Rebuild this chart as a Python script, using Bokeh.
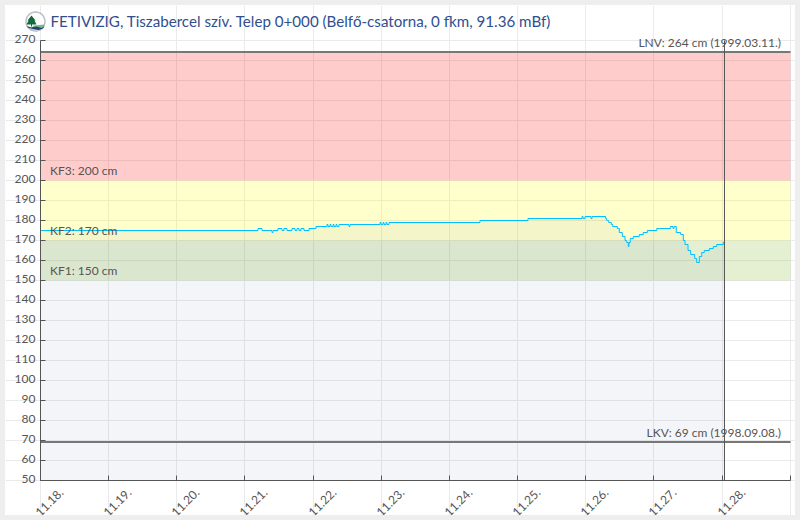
from bokeh.plotting import figure
from bokeh.embed import file_html
from bokeh.resources import INLINE
from bokeh.models import BoxAnnotation, Label, FixedTicker, Range1d, PolyAnnotation
from math import pi
import numpy as np

title = "FETIVIZIG, Tiszabercel szív. Telep 0+000 (Belfő-csatorna, 0 fkm, 91.36 mBf)"
tick_days = list(range(0, 12))
tick_labels = ["11.18.", "11.19.", "11.20.", "11.21.", "11.22.", "11.23.", "11.24.", "11.25.", "11.26.", "11.27.", "11.28."]
y_ticks = list(range(50, 280, 10))
now_day = 10.035
lnv = 264
lkv = 69
kf1, kf2, kf3 = 150, 170, 200

days = [0, 3.191, 3.250, 3.396, 3.411, 3.484, 3.543, 3.572, 3.616, 3.690, 3.734, 3.763, 3.793, 3.822, 3.866,
        3.939, 4.042, 4.071, 4.203, 4.218, 4.248, 4.262, 4.292, 4.306, 4.336, 4.350, 4.379, 4.526, 4.541,
        4.981, 4.996, 5.025, 5.040, 5.069, 5.084, 5.113, 6.448, 7.152, 7.945, 7.960, 7.989, 8.077, 8.092,
        8.292, 8.307, 8.337, 8.375, 8.395, 8.429, 8.463, 8.492, 8.536, 8.576, 8.600, 8.624, 8.634, 8.653,
        8.697, 8.785, 8.844, 8.903, 9.041, 9.079, 9.240, 9.280, 9.295, 9.328, 9.392, 9.431, 9.456, 9.500,
        9.539, 9.598, 9.627, 9.665, 9.701, 9.739, 9.813, 9.871, 9.921, 9.969, 10.018, 10.035]
levels = [175, 176, 175, 174, 175, 176, 175, 176, 175, 176, 175, 176, 175, 176, 175,
          176, 177, 177, 178, 177, 178, 177, 178, 177, 178, 177, 178, 177, 178,
          179, 178, 179, 178, 179, 178, 179, 180, 181, 182, 181, 182, 181, 182,
          181, 180, 179, 178, 177, 177, 176, 174, 172, 170, 169, 167, 169, 171,
          172, 173, 174, 175, 176, 176, 177, 176, 177, 174, 173, 170, 168, 165,
          163, 161, 159, 162, 164, 165, 166, 167, 168, 168, 169, 169]

TXT = "#555555"
FONT = "Lato"
PX_PER_DAY = 68.16
# tick positions snapped to whole pixels, as in the reference
x_ticks = [round(d * PX_PER_DAY) / PX_PER_DAY for d in tick_days]
end_day = 750 / PX_PER_DAY
LINE_SNAP = 0.25  # half a pixel, keeps the two-pixel limit lines crisp

# the frame fills the whole card, so that no text is clipped at the plot's edge
p = figure(width=790, height=510, output_backend="svg", toolbar_location=None,
           x_range=Range1d(-35 / PX_PER_DAY, 755 / PX_PER_DAY), y_range=Range1d(32.5, 287.5),
           min_border_left=0, min_border_right=0, min_border_top=0, min_border_bottom=0)
p.styles = {"position": "absolute", "left": "5px", "top": "5px", "box-shadow": "0 0 0 5px #eeeeee"}
p.background_fill_color = "#ffffff"
p.border_fill_color = "#ffffff"
p.outline_line_color = None

for ax in (p.xaxis[0], p.yaxis[0]):
    ax.axis_line_color = TXT
    ax.major_tick_line_color = TXT
    ax.major_tick_in = 5
    ax.major_tick_out = 0
    ax.minor_tick_line_color = None
p.xaxis[0].ticker = FixedTicker(ticks=x_ticks)
p.yaxis[0].ticker = FixedTicker(ticks=y_ticks)
p.xaxis[0].major_label_overrides = {t: "" for t in x_ticks}
p.yaxis[0].major_label_overrides = {t: "" for t in y_ticks}
p.xaxis[0].fixed_location = 50
p.yaxis[0].fixed_location = 0
p.xaxis[0].bounds = (0, end_day)
p.yaxis[0].bounds = (50, 270)
p.xgrid[0].ticker = FixedTicker(ticks=x_ticks)
p.ygrid[0].ticker = FixedTicker(ticks=y_ticks)
p.xgrid[0].bounds = (50, 270)
p.ygrid[0].bounds = (0, end_day)
p.grid.grid_line_color = "#eaeaea"
p.grid.grid_line_width = 1

for lo, hi, col in ((kf3, lnv, "#ff0000"), (kf2, kf3, "#ffff00"), (kf1, kf2, "#7db423")):
    p.add_layout(BoxAnnotation(left=0, right=end_day, bottom=lo, top=hi, fill_color=col, fill_alpha=0.2,
                               line_color=None, level="underlay"))

p.varea_step(x=days, y1=[50] * len(days), y2=levels, step_mode="after", fill_color="#263785", fill_alpha=0.05)
p.step(x=days, y=levels, mode="after", line_color="#00bfff", line_width=1)

for val in (lnv, lkv):
    p.segment(x0=[0], y0=[val + LINE_SNAP], x1=[end_day], y1=[val + LINE_SNAP], line_color="#777777", line_width=2)
p.segment(x0=[now_day], y0=[50], x1=[now_day], y1=[270], line_color="#555555", line_width=1)

for txt, val in ((f"KF3: {kf3} cm", kf3), (f"KF2: {kf2} cm", kf2), (f"KF1: {kf1} cm", kf1)):
    p.add_layout(Label(x=44.5, x_units="screen", y=val, y_offset=3, text=txt, text_color=TXT,
                       text_font=FONT, text_font_size="12px", text_baseline="bottom"))
for txt, val in ((f"LNV: {lnv} cm (1999.03.11.)", lnv), (f"LKV: {lkv} cm (1998.09.08.)", lkv)):
    p.add_layout(Label(x=775.5, x_units="screen", y=val, y_offset=3, text=txt, text_color=TXT, text_align="right",
                       text_font=FONT, text_font_size="12px", text_baseline="bottom"))

for d, s in zip(x_ticks, tick_labels):
    p.add_layout(Label(x=d, y=50, text=s, angle=pi / 4, text_color=TXT, text_font=FONT, text_font_size="12px",
                       text_align="center", text_baseline="middle", x_offset=9, y_offset=-22))
for v in y_ticks:
    p.add_layout(Label(x=0, y=v, text=str(v), text_color=TXT, text_font=FONT, text_font_size="12px",
                       text_align="right", text_baseline="middle", x_offset=-5, y_offset=1.5))

p.add_layout(Label(x=45, x_units="screen", y=495, y_units="screen", text=title, text_color="#2f4f8f",
                   text_font=FONT, text_font_size="15.15px", text_baseline="middle"))

# logo, in card pixels
def logo(xs, ys, **kw):
    p.add_layout(PolyAnnotation(xs=[x - 5 for x in xs], ys=[515 - y for y in ys],
                                xs_units="screen", ys_units="screen", **kw))

t = np.linspace(0, 2 * pi, 40)
logo(list(35 + 9.5 * np.cos(t)), list(21 + 9.5 * np.sin(t)), fill_color="#ffffff", fill_alpha=1, line_color="#1f2f45", line_width=1.5)
logo([33, 44, 43, 38, 30], [25, 24, 26.5, 29.5, 29], fill_color="#7fb98a", fill_alpha=1, line_color=None)
logo([31, 35, 34, 36, 31.5, 31.5, 30.5, 30.5, 26, 28, 27], [15, 20, 20, 24, 24, 26, 26, 24, 24, 20, 20], fill_color="#146b3a", fill_alpha=1, line_color=None)
logo([26, 31, 36, 41, 44, 42.5, 38, 33, 28], [25.5, 27, 26, 27.5, 25.5, 28, 29.5, 28.5, 27.5], fill_color="#1d3f7a", fill_alpha=1, line_color=None)

open("out.html", "w").write(file_html(p, INLINE))
